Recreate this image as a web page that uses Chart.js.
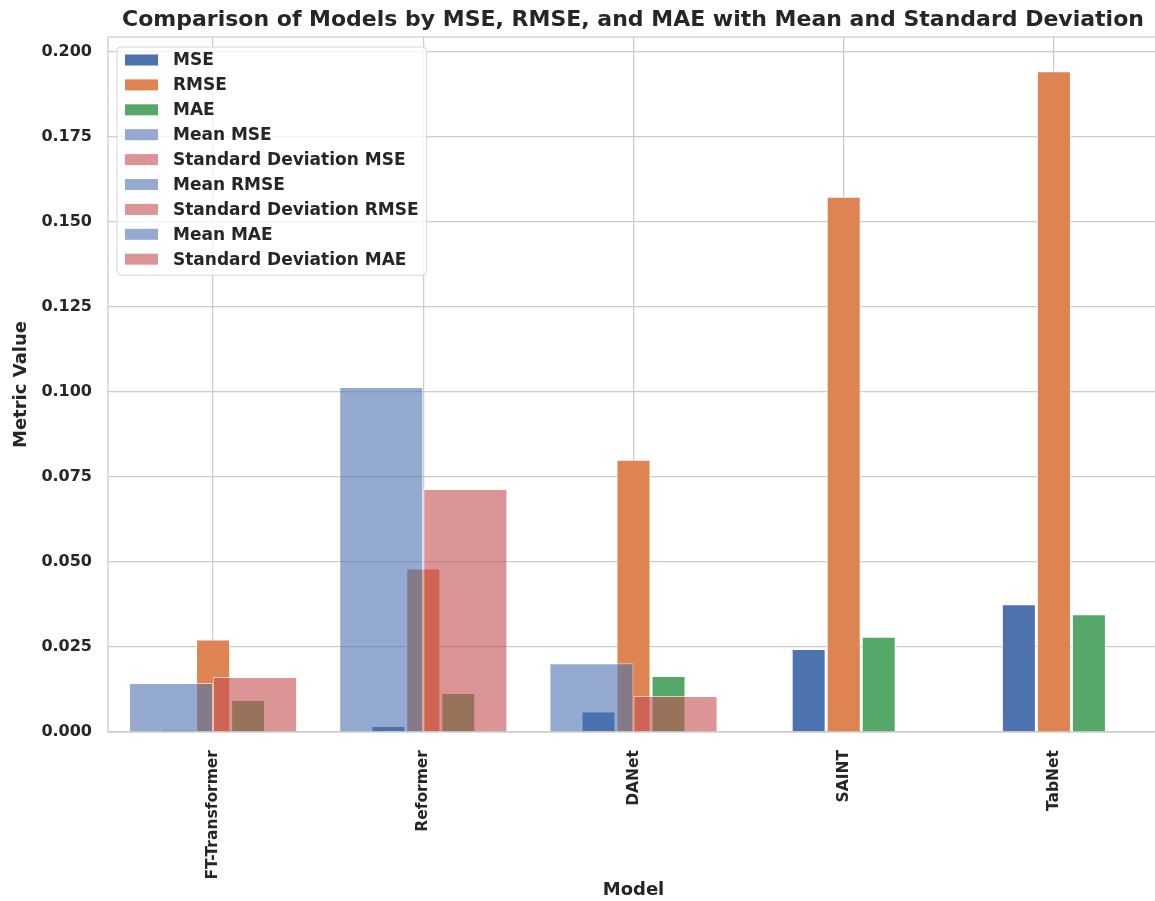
<!DOCTYPE html>
<html>
<head>
<meta charset="utf-8">
<script src="https://cdn.jsdelivr.net/npm/chart.js@4.4.0/dist/chart.umd.min.js"></script>
<style>
  html, body { margin: 0; padding: 0; background: #fff; overflow: hidden; }
  #wrap { width: 1266px; height: 901px; }
</style>
</head>
<body>
<div id="wrap"><canvas id="chart" width="1266" height="901"></canvas></div>
<script>
const models = ['FT-Transformer', 'Reformer', 'DANet', 'SAINT', 'TabNet']
const metrics = ['MSE', 'RMSE', 'MAE']
const mseValues = [0.0006, 0.0018, 0.0060, 0.0244, 0.0376]
const rmseValues = [0.0272, 0.0481, 0.0801, 0.1574, 0.1943]
const maeValues = [0.0094, 0.0115, 0.0165, 0.0280, 0.0346]
// mean / std of each metric over the models, drawn at slot 0, 1, 2
const meanValues = [0.0144, 0.1015, 0.0202]
const stdValues = [0.0162, 0.0715, 0.0106]

const textColor = '#262626'
const gridColor = '#cccccc'
const font = 'DejaVu Sans'

const metricColors = ['#4C72B0', '#DD8452', '#55A868']
const meanColor = 'rgba(76, 114, 176, 0.6)'
const stdColor = 'rgba(196, 78, 82, 0.6)'

// bar geometry: MSE shares the left slot with the Mean bars, MAE the right slot
// with the Std bars, RMSE sits ungrouped on the tick
function metricDataset(label, values, color, slot) {
    let ds = {
        label: label,
        data: values,
        backgroundColor: color,
        borderColor: '#ffffff',
        borderWidth: 1,
        order: 1
    }
    if (slot) {
        ds.stack = slot
        ds.categoryPercentage = 2 / 3
        ds.barPercentage = 0.485
    } else {
        ds.grouped = false
        ds.categoryPercentage = 1
        ds.barPercentage = 0.162
    }
    return ds
}

function summaryDataset(label, value, index, color, slot) {
    return {
        label: label,
        data: models.map((m, j) => (j === index ? value : null)),
        backgroundColor: color,
        borderColor: 'rgba(255, 255, 255, 0.6)',
        borderWidth: 1,
        stack: slot,
        categoryPercentage: 0.8,
        barPercentage: 1.0,
        order: 0
    }
}

let datasets = [
    metricDataset('MSE', mseValues, metricColors[0], 'left'),
    metricDataset('RMSE', rmseValues, metricColors[1], null),
    metricDataset('MAE', maeValues, metricColors[2], 'right')
]
metrics.forEach((name, i) => {
    datasets.push(summaryDataset('Mean ' + name, meanValues[i], i, meanColor, 'left'))
    datasets.push(summaryDataset('Standard Deviation ' + name, stdValues[i], i, stdColor, 'right'))
})

// matplotlib-like frame around the axes
const framePlugin = {
    id: 'frame',
    afterDatasetsDraw(chart) {
        const a = chart.chartArea
        const ctx = chart.ctx
        ctx.save()
        ctx.strokeStyle = gridColor
        ctx.lineWidth = 1.25
        ctx.strokeRect(a.left, a.top, a.right - a.left, a.bottom - a.top)
        ctx.restore()
    }
}

// legend drawn inside the plot, upper left
const insideLegend = {
    id: 'insideLegend',
    afterDraw(chart) {
        const ctx = chart.ctx
        const a = chart.chartArea
        const rowH = 24.9
        ctx.save()
        ctx.font = 'bold 17px "' + font + '"'
        let maxW = 0
        chart.data.datasets.forEach(ds => { maxW = Math.max(maxW, ctx.measureText(ds.label).width) })
        const x = a.left + 9
        const y = a.top + 10
        const w = 56 + maxW + 8
        const h = 13 + rowH * (chart.data.datasets.length - 1) + 16
        ctx.beginPath()
        ctx.roundRect(x, y, w, h, 4)
        ctx.fillStyle = 'rgba(255, 255, 255, 0.8)'
        ctx.fill()
        ctx.strokeStyle = '#d6d6d6'
        ctx.lineWidth = 1
        ctx.stroke()
        chart.data.datasets.forEach((ds, i) => {
            const cy = y + 13 + i * rowH
            ctx.fillStyle = '#ffffff'
            ctx.fillRect(x + 8, cy - 5.5, 33, 11)
            ctx.fillStyle = ds.backgroundColor
            ctx.fillRect(x + 8, cy - 5.5, 33, 11)
            ctx.fillStyle = textColor
            ctx.textBaseline = 'middle'
            ctx.textAlign = 'left'
            ctx.fillText(ds.label, x + 56, cy + 1)
        })
        ctx.restore()
    }
}

const node = document.getElementById('chart')
const myChart = new Chart(node, {
    type: 'bar',
    data: {
        labels: models,
        datasets: datasets
    },
    options: {
        responsive: false,
        animation: false,
        layout: { padding: 0 },
        plugins: {
            legend: { display: false },
            tooltip: { enabled: false },
            title: {
                display: true,
                text: 'Comparison of Models by MSE, RMSE, and MAE with Mean and Standard Deviation',
                color: textColor,
                font: { family: font, size: 22, weight: 'bold' },
                padding: { top: 7, bottom: 3.6 }
            }
        },
        scales: {
            x: {
                type: 'category',
                offset: true,
                grid: { color: gridColor, lineWidth: 1.25, offset: false, drawTicks: false },
                border: { display: false },
                ticks: {
                    color: textColor,
                    font: { family: font, size: 15.5, weight: 'bold' },
                    maxRotation: 90,
                    minRotation: 90,
                    autoSkip: false,
                    padding: 18
                },
                title: {
                    display: true,
                    text: 'Model',
                    color: textColor,
                    font: { family: font, size: 18, weight: 'bold' },
                    padding: { top: 0, bottom: 0 }
                },
                afterFit(scale) { scale.height = 169 }
            },
            y: {
                min: 0,
                max: 0.2044,
                stacked: false,
                grid: { color: gridColor, lineWidth: 1.25, drawTicks: false },
                border: { display: false },
                ticks: {
                    stepSize: 0.025,
                    includeBounds: false,
                    color: textColor,
                    font: { family: font, size: 16, weight: 'bold' },
                    padding: 16,
                    callback: v => v.toFixed(3)
                },
                title: {
                    display: true,
                    text: 'Metric Value',
                    color: textColor,
                    font: { family: font, size: 18, weight: 'bold' },
                    padding: { top: 11, bottom: 0 }
                },
                afterFit(scale) { scale.width = 108 }
            },
            // empty right-hand axis: the source figure is cropped on the right,
            // this keeps the plot width and the title centred over the axes
            yRight: {
                position: 'right',
                display: true,
                grid: { display: false },
                border: { display: false },
                ticks: { display: false },
                afterFit(scale) { scale.width = 107 }
            }
        }
    },
    plugins: [framePlugin, insideLegend]
})
</script>
</body>
</html>
